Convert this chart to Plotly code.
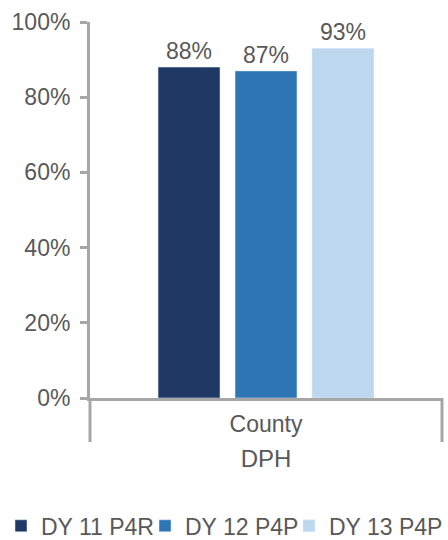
import plotly.graph_objects as go

# Chart data
outer_group = "DPH"
inner_groups = ["County"]
series_names = ["DY 11 P4R", "DY 12 P4P", "DY 13 P4P"]
series_values = [[88], [87], [93]]
series_colors = ["#1F3864", "#2E75B6", "#BDD7EE"]
y_ticks = [0, 20, 40, 60, 80, 100]
y_tick_labels = ["0%", "20%", "40%", "60%", "80%", "100%"]

TEXT_GRAY = "#595959"
AXIS_GRAY = "#A6A6A6"
FONT = "Liberation Sans, Arial, sans-serif"


def main() -> None:
    """Build the grouped bar chart and write it to out.html."""
    fig = go.Figure()
    for i, (name, values, color) in enumerate(
        zip(series_names, series_values, series_colors)
    ):
        fig.add_trace(
            go.Bar(
                name=name,
                x=inner_groups,
                y=values,
                marker_color=color,
                texttemplate="%{y}%",
                textposition="outside",
                textfont=dict(size=23, color=TEXT_GRAY),
                cliponaxis=False,
                # Last entry gets room so its text is not clipped.
                legendwidth=113 if i == len(series_names) - 1 else 99,
            )
        )

    # Group divider lines under the category axis.
    for x_edge in (0, 1):
        fig.add_shape(
            type="line",
            xref="paper",
            yref="paper",
            x0=x_edge,
            x1=x_edge,
            y0=0,
            y1=-0.117,
            line=dict(color=AXIS_GRAY, width=3),
        )

    fig.update_layout(
        width=448,
        height=540,
        margin=dict(l=90, r=6, t=22, b=142, autoexpand=False),
        paper_bgcolor="white",
        plot_bgcolor="white",
        font=dict(family=FONT, size=23, color=TEXT_GRAY),
        barmode="group",
        bargap=0.344,
        bargroupgap=0.195,
        uniformtext=dict(minsize=23),
        showlegend=True,
        legend=dict(
            orientation="h",
            x=-0.2528,
            xanchor="left",
            y=-0.34,
            yanchor="middle",
            font=dict(size=23, color=TEXT_GRAY),
            itemwidth=30,
            entrywidthmode="pixels",
        ),
    )

    fig.update_yaxes(
        range=[0, 100],
        tickvals=y_ticks,
        ticktext=y_tick_labels,
        showgrid=False,
        showline=True,
        linecolor=AXIS_GRAY,
        linewidth=3,
        ticks="outside",
        ticklen=7,
        tickwidth=3,
        tickcolor=AXIS_GRAY,
        ticklabelstandoff=5,
        zeroline=False,
    )
    fig.update_xaxes(
        type="category",
        showline=True,
        linecolor=AXIS_GRAY,
        linewidth=3,
        ticks="",
        ticklabelstandoff=3,
        showgrid=False,
        title=dict(text=outer_group, standoff=15, font=dict(size=24)),
    )

    # Drop the default page margin so the figure fills the window exactly.
    fig.write_html(
        "out.html",
        config={"displayModeBar": False},
        post_script="document.body.style.margin='0';"
        "document.body.style.overflow='hidden';",
    )


if __name__ == "__main__":
    main()
